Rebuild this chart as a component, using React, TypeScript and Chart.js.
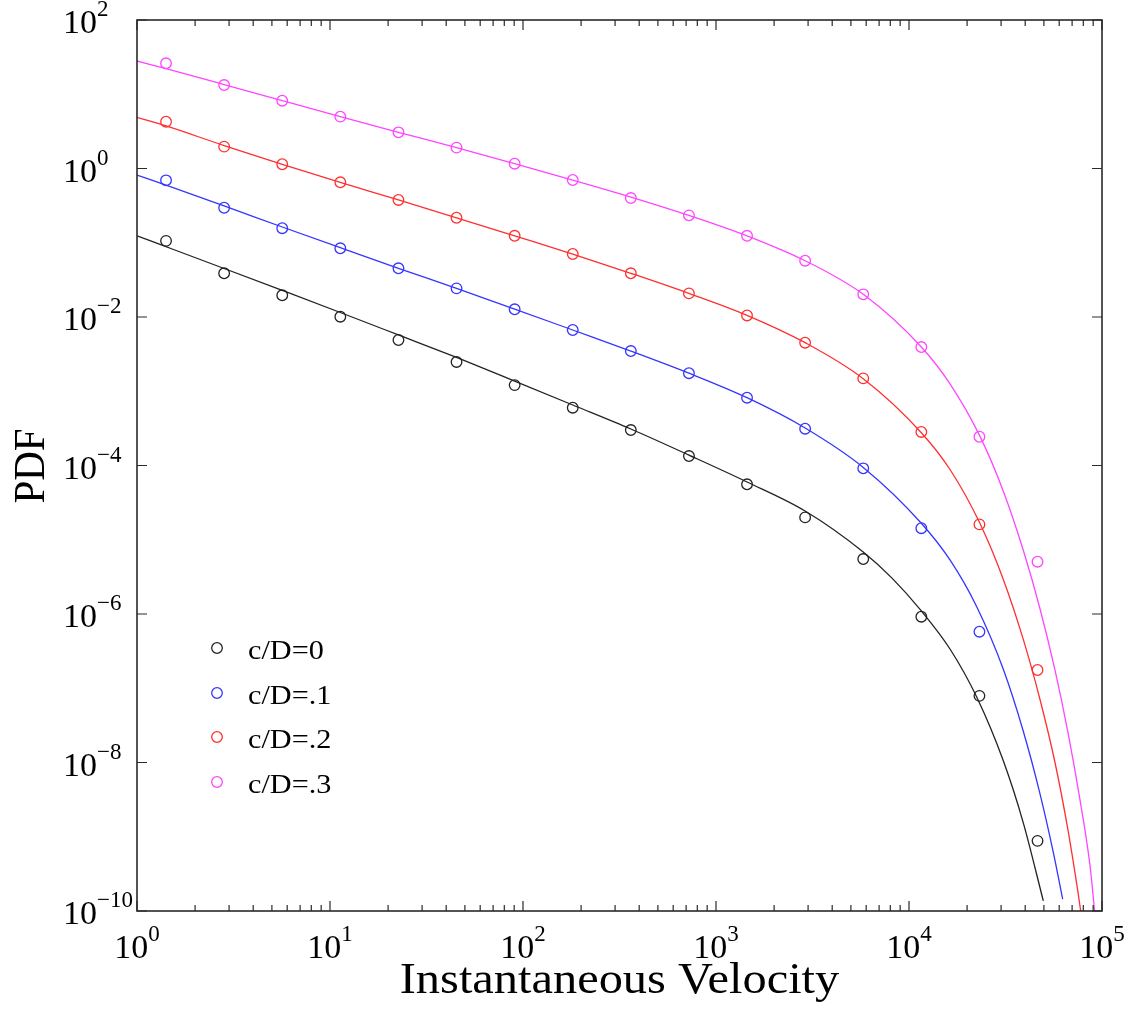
import React, { useEffect, useRef } from "react";
import { Chart, registerables } from "chart.js";

Chart.register(...registerables);

// ---------- data ----------
const SERIES_LABELS = ["c/D=0", "c/D=.1", "c/D=.2", "c/D=.3"];
const SERIES_COLORS = ["#222222", "#3535ff", "#ff2f2f", "#ff45ff"];

// measured velocities (bins)
const MARKER_X = [1.414, 2.828, 5.657, 11.31, 22.63, 45.25, 90.51, 181.0, 362.0, 724.1, 1448, 2896, 5793, 11585, 23170, 46341];

const MARK_C0 = [0.106, 0.0388, 0.0196, 0.0101, 0.0049, 0.00248, 0.00121, 6.0e-4, 3.0e-4, 1.34e-4, 5.58e-5, 2.0e-5, 5.5e-6, 9.2e-7, 7.9e-8, 8.8e-10];
const MARK_C1 = [0.693, 0.296, 0.157, 0.0842, 0.0453, 0.0243, 0.0127, 0.00668, 0.00348, 0.00175, 8.19e-4, 3.13e-4, 9.16e-5, 1.43e-5, 5.78e-7];
const MARK_C2 = [4.27, 1.97, 1.14, 0.652, 0.377, 0.217, 0.124, 0.0705, 0.0388, 0.0208, 0.0105, 0.00451, 0.00149, 2.83e-4, 1.61e-5, 1.76e-7];
const MARK_C3 = [26.1, 13.3, 8.19, 4.99, 3.07, 1.91, 1.16, 0.70, 0.40, 0.234, 0.124, 0.0573, 0.0202, 0.00394, 2.44e-4, 5.06e-6];

// fitted curves
const LINE_X_C0 = [1, 1.414, 2.828, 5.657, 11.31, 22.63, 45.25, 90.51, 181, 362, 724.1, 1448, 2896, 5793, 8166, 11585, 16310, 22430, 30810, 39100, 49650];
const LINE_Y_C0 = [0.124, 0.0885, 0.045, 0.0228, 0.0115, 0.00573, 0.00285, 0.00137, 6.53e-4, 3.1e-4, 1.38e-4, 6.0e-5, 2.44e-5, 6.84e-6, 3.04e-6, 1.10e-6, 3.38e-7, 7.62e-8, 1.054e-8, 1.54e-9, 1.37e-10];

const LINE_X_C1 = [1, 1.414, 2.828, 5.657, 11.31, 22.63, 45.25, 90.51, 181, 362, 724.1, 1448, 2896, 5793, 11585, 16310, 22430, 30810, 39100, 47730, 55940, 62570];
const LINE_Y_C1 = [0.817, 0.596, 0.313, 0.163, 0.0857, 0.0453, 0.0243, 0.0128, 0.00668, 0.00348, 0.00175, 8.19e-4, 3.2e-4, 9.43e-5, 1.67e-5, 5.34e-6, 1.254e-6, 1.805e-7, 2.64e-8, 3.79e-9, 6.17e-10, 1.44e-10];

const LINE_X_C2 = [1, 1.414, 2.828, 5.657, 11.31, 22.63, 45.25, 90.51, 181, 362, 724.1, 1448, 2896, 5793, 11585, 16310, 23330, 30810, 39100, 47730, 57080, 66650, 75080, 81650];
const LINE_Y_C2 = [4.89, 3.74, 2.04, 1.14, 0.652, 0.377, 0.217, 0.124, 0.0705, 0.0388, 0.0208, 0.01054, 0.00451, 0.001476, 2.765e-4, 8.83e-5, 1.655e-5, 2.924e-6, 4.55e-7, 7.06e-8, 1.0e-8, 1.229e-9, 1.796e-10, 3.93e-11];

const LINE_X_C3 = [1, 1.414, 2.828, 5.657, 11.31, 22.63, 45.25, 90.51, 181, 362, 724.1, 1448, 2896, 5793, 11585, 16310, 23330, 30810, 39100, 47730, 57080, 66650, 76910, 86690, 94220];
const LINE_Y_C3 = [28.05, 22.1, 13.5, 8.19, 4.99, 3.07, 1.91, 1.16, 0.70, 0.413, 0.234, 0.124, 0.0573, 0.0202, 0.00394, 1.256e-3, 2.465e-4, 4.507e-5, 7.23e-6, 1.178e-6, 1.75e-7, 2.527e-8, 3.144e-9, 4.06e-10, 4.5e-11];

// axes
const X_TICK_EXPONENTS = [0, 1, 2, 3, 4, 5];
const Y_TICK_EXPONENTS = [2, 0, -2, -4, -6, -8, -10];
const X_TITLE = "Instantaneous Velocity";
const Y_TITLE = "PDF";

const SERIF = '"Liberation Serif", "Times New Roman", serif';

function expText(e: number): string {
  return e < 0 ? "\u2212" + String(-e) : String(e);
}

function drawPow(ctx: CanvasRenderingContext2D, x: number, baseline: number, e: number, align: "center" | "left") {
  const baseFont = `34px ${SERIF}`;
  const supFont = `23px ${SERIF}`;
  ctx.font = baseFont;
  const w1 = ctx.measureText("10").width;
  ctx.font = supFont;
  const s = expText(e);
  const w2 = ctx.measureText(s).width;
  const start = align === "center" ? x - (w1 + w2) / 2 : x;
  ctx.textAlign = "left";
  ctx.textBaseline = "alphabetic";
  ctx.font = baseFont;
  ctx.fillText("10", start, baseline);
  ctx.font = supFont;
  ctx.fillText(s, start + w1, baseline - 17);
}

const framePlugin = {
  id: "framePlugin",
  afterDraw(chart: any) {
    const { ctx, chartArea: a, scales } = chart;
    const xs = scales.x;
    const ys = scales.y;
    ctx.save();
    // frame
    ctx.strokeStyle = "#2a2a2a";
    ctx.lineWidth = 1.6;
    ctx.strokeRect(a.left, a.top, a.right - a.left, a.bottom - a.top);
    ctx.lineWidth = 1.2;
    ctx.beginPath();
    // x ticks (major + minor), bottom and top, pointing inward
    X_TICK_EXPONENTS.forEach((e, i) => {
      const px = xs.getPixelForValue(Math.pow(10, e));
      ctx.moveTo(px, a.bottom);
      ctx.lineTo(px, a.bottom - 10);
      ctx.moveTo(px, a.top);
      ctx.lineTo(px, a.top + 10);
      if (i < X_TICK_EXPONENTS.length - 1) {
        for (let m = 2; m <= 9; m++) {
          const mx = xs.getPixelForValue(m * Math.pow(10, e));
          ctx.moveTo(mx, a.bottom);
          ctx.lineTo(mx, a.bottom - 6);
          ctx.moveTo(mx, a.top);
          ctx.lineTo(mx, a.top + 6);
        }
      }
    });
    // y ticks left and right
    Y_TICK_EXPONENTS.forEach((e) => {
      const py = ys.getPixelForValue(Math.pow(10, e));
      ctx.moveTo(a.left, py);
      ctx.lineTo(a.left + 10, py);
      ctx.moveTo(a.right, py);
      ctx.lineTo(a.right - 10, py);
    });
    ctx.stroke();

    // tick labels
    ctx.fillStyle = "#000";
    X_TICK_EXPONENTS.forEach((e) => {
      const px = xs.getPixelForValue(Math.pow(10, e));
      drawPow(ctx, px, a.bottom + 47, e, "center");
    });
    Y_TICK_EXPONENTS.forEach((e) => {
      const py = ys.getPixelForValue(Math.pow(10, e));
      drawPow(ctx, 63, py + 13, e, "left");
    });

    // axis titles
    ctx.font = `44px ${SERIF}`;
    ctx.textAlign = "center";
    ctx.textBaseline = "alphabetic";
    ctx.save();
    ctx.translate((a.left + a.right) / 2, a.bottom + 82);
    ctx.scale(1.1, 1);
    ctx.fillText(X_TITLE, 0, 0);
    ctx.restore();

    ctx.save();
    ctx.font = `41px ${SERIF}`;
    ctx.translate(43.5, (a.top + a.bottom) / 2 + 0.5);
    ctx.scale(1.1, 1);
    ctx.rotate(-Math.PI / 2);
    ctx.textAlign = "center";
    ctx.fillText(Y_TITLE, 0, 0);
    ctx.restore();

    // legend
    const rows = [648, 693, 737, 782];
    SERIES_LABELS.forEach((lab, i) => {
      const y = rows[i];
      ctx.beginPath();
      ctx.strokeStyle = SERIES_COLORS[i];
      ctx.lineWidth = 1.3;
      ctx.arc(217, y, 5.3, 0, Math.PI * 2);
      ctx.stroke();
      ctx.save();
      ctx.fillStyle = "#000";
      ctx.font = `27px ${SERIF}`;
      ctx.textAlign = "left";
      ctx.textBaseline = "alphabetic";
      ctx.translate(248, y + 11);
      ctx.scale(1.12, 1);
      ctx.fillText(lab, 0, 0);
      ctx.restore();
    });
    ctx.restore();
  },
};

function pts(xs: number[], ys: number[]) {
  return ys.map((y, i) => ({ x: xs[i], y }));
}

export default function App() {
  const ref = useRef<HTMLCanvasElement | null>(null);
  useEffect(() => {
    if (!ref.current) return;
    const lines = [
      pts(LINE_X_C0, LINE_Y_C0),
      pts(LINE_X_C1, LINE_Y_C1),
      pts(LINE_X_C2, LINE_Y_C2),
      pts(LINE_X_C3, LINE_Y_C3),
    ];
    const marks = [MARK_C0, MARK_C1, MARK_C2, MARK_C3].map((m) => pts(MARKER_X, m));
    const datasets: any[] = [];
    lines.forEach((d, i) => {
      datasets.push({
        label: SERIES_LABELS[i] + " fit",
        data: d,
        showLine: true,
        borderColor: SERIES_COLORS[i],
        borderWidth: 1.3,
        pointRadius: 0,
        fill: false,
        cubicInterpolationMode: "monotone",
      });
    });
    marks.forEach((d, i) => {
      datasets.push({
        label: SERIES_LABELS[i],
        data: d,
        showLine: false,
        borderColor: SERIES_COLORS[i],
        backgroundColor: "rgba(0,0,0,0)",
        borderWidth: 1.3,
        pointRadius: 5.3,
        pointStyle: "circle",
      });
    });
    const chart = new Chart(ref.current, {
      type: "scatter",
      data: { datasets },
      options: {
        animation: false,
        responsive: false,
        devicePixelRatio: 1,
        layout: { padding: { left: 137, right: 31, top: 20, bottom: 99 } },
        plugins: { legend: { display: false }, tooltip: { enabled: false } },
        scales: {
          x: { type: "logarithmic", min: 1, max: 1e5, display: false },
          y: { type: "logarithmic", min: 1e-10, max: 100, display: false },
        },
      },
      plugins: [framePlugin],
    } as any);
    return () => chart.destroy();
  }, []);
  return (
    <div style={{ position: "absolute", left: 0, top: 0, width: 1133, height: 1010, background: "#fff" }}>
      <canvas ref={ref} width={1133} height={1010} style={{ width: 1133, height: 1010, display: "block" }} />
    </div>
  );
}
